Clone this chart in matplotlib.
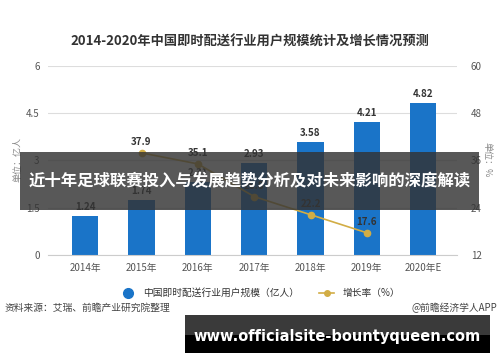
import matplotlib
matplotlib.use("Agg")
import matplotlib.pyplot as plt
from matplotlib.patches import Rectangle
from matplotlib.lines import Line2D
import numpy as np

plt.rcParams['font.family'] = ['Noto Sans CJK SC', 'DejaVu Sans']

years = ['2014年', '2015年', '2016年', '2017年', '2018年', '2019年', '2020年E']
users = [1.24, 1.74, 2.31, 2.93, 3.58, 4.21, 4.82]
growth_years = [1, 2, 3, 4, 5]
growth = [37.9, 35.1, 26.8, 22.2, 17.6]

bar_color = '#1a74c8'
line_color = '#d2ad45'
text_gray = '#555555'

fig = plt.figure(figsize=(5, 3.62), dpi=100)
ax = fig.add_axes([0.096, 0.296, 0.818, 0.522])
ax2 = ax.twinx()

x = np.arange(len(years))
ax.bar(x, users, width=0.47, color=bar_color, zorder=2)
for xi, v in zip(x, users):
    ax.text(xi, v + 0.12, f'{v:.2f}', ha='center', va='bottom',
            fontsize=7, color='#333333', fontweight='bold')

ax.set_ylim(0, 6)
ax.set_yticks([0, 1.5, 3, 4.5, 6])
ax.set_yticklabels(['0', '1.5', '3', '4.5', '6'])
ax.set_xlim(-0.66, 6.6)
ax.set_xticks(x)
ax.set_xticklabels(years)
ax.grid(axis='y', color='#dddddd', linewidth=0.8, zorder=0)
ax.set_axisbelow(True)
for s in ['top', 'left', 'right']:
    ax.spines[s].set_visible(False)
ax.spines['bottom'].set_color('#cccccc')
ax.tick_params(axis='both', length=0, labelsize=7, colors=text_gray, pad=6)

ax2.plot(growth_years, growth, color=line_color, linewidth=1.2,
         marker='o', markersize=4.5, zorder=3)
for xi, v in zip(growth_years, growth):
    ax2.text(xi, v + 1.5, f'{v}', ha='center', va='bottom',
             fontsize=7, color='#333333', fontweight='bold')
ax2.set_ylim(12, 60)
ax2.set_yticks([12, 24, 36, 48, 60])
for s in ['top', 'left', 'right', 'bottom']:
    ax2.spines[s].set_visible(False)
ax2.tick_params(axis='y', length=0, labelsize=7, colors=text_gray, pad=10)

fig.text(0.5, 0.884, '2014-2020年中国即时配送行业用户规模统计及增长情况预测',
         ha='center', va='center', fontsize=9.5, fontweight='bold', color='#333333')
fig.text(0.036, 0.56, '单位：亿人', rotation=90, ha='center', va='center',
         fontsize=6.5, color='#888888')
fig.text(0.974, 0.56, '单位：%', rotation=270, ha='center', va='center',
         fontsize=6.5, color='#888888')

# legend
handles = [
    Line2D([], [], linestyle='none', marker='o', markersize=7, color=bar_color),
    Line2D([], [], color=line_color, linewidth=1.2, marker='o', markersize=4),
]
fig.legend(handles, ['中国即时配送行业用户规模（亿人）', '增长率（%）'],
           loc='center', bbox_to_anchor=(0.52, 0.19), ncol=2, frameon=False,
           fontsize=7, handlelength=1.6, columnspacing=2.0,
           labelcolor='#333333')

fig.text(0.01, 0.149, '资料来源：艾瑞、前瞻产业研究院整理', ha='left', va='center',
         fontsize=7, color='#444444')
fig.text(0.995, 0.149, '@前瞻经济学人APP', ha='right', va='center',
         fontsize=7, color='#444444')

# overlay banner
fig.patches.append(Rectangle((0.04, 0.42), 0.918, 0.16, transform=fig.transFigure,
                             facecolor='#333333', alpha=0.82, zorder=5))
fig.text(0.5, 0.5, '近十年足球联赛投入与发展趋势分析及对未来影响的深度解读',
         ha='center', va='center', fontsize=11.8, fontweight='bold',
         color='white', zorder=6)

# bottom site box
fig.patches.append(Rectangle((0.37, 0.025), 0.61, 0.105, transform=fig.transFigure,
                             facecolor='#3a3a3a', zorder=5))
fig.patches.append(Rectangle((0.37, 0.025), 0.61, 0.05, transform=fig.transFigure,
                             facecolor='black', zorder=5))
fig.text(0.675, 0.07, 'www.officialsite-bountyqueen.com', ha='center', va='center',
         fontsize=10.5, fontweight='bold', color='white', family='DejaVu Sans',
         zorder=6)

fig.savefig('out.png', dpi=100, facecolor='white')
